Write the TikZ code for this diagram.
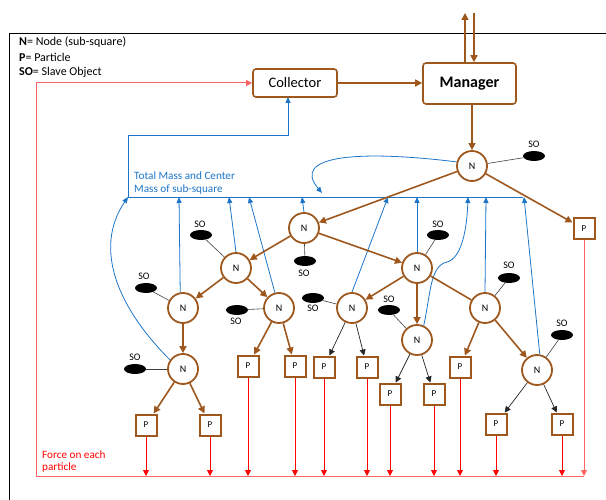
\documentclass[tikz,border=0pt]{standalone}
\usepackage{fontspec}
\setmainfont{Carlito}
\usetikzlibrary{arrows.meta,shapes.geometric}
\definecolor{brn}{RGB}{158,88,30}
\definecolor{blu}{RGB}{28,117,200}
\definecolor{rd}{RGB}{255,0,0}
\definecolor{rdl}{RGB}{255,100,100}
\tikzset{
 nnode/.style={circle,draw=brn,line width=1.8pt,fill=white,minimum size=30pt,inner sep=0pt,font=\fontsize{10}{10}\selectfont},
 pnode/.style={rectangle,draw=brn,line width=2pt,fill=white,minimum size=21pt,inner sep=0pt,font=\fontsize{9}{9}\selectfont},
 sonode/.style={ellipse,fill=black,minimum width=22pt,minimum height=10pt,inner sep=0pt},
 solab/.style={font=\fontsize{10}{10}\selectfont,inner sep=1pt},
 bedge/.style={draw=brn,line width=1.6pt,-{Triangle[length=7pt,width=7pt]}},
 bline/.style={draw=brn,line width=1.6pt},
 kedge/.style={draw=black!85,line width=0.7pt,-{Triangle[length=6pt,width=6pt]}},
 soline/.style={draw=black!75,line width=0.6pt},
 bluel/.style={draw=blu,line width=0.8pt},
 bluea/.style={draw=blu,line width=0.8pt,-{Triangle[length=6pt,width=5pt]}},
 redarr/.style={draw=rd,line width=0.8pt,-{Triangle[length=6pt,width=6pt]}},
 redfr/.style={draw=rdl,line width=1pt},
 box/.style={rectangle,rounded corners=3pt,draw=brn,line width=1.6pt,fill=white},
 legend/.style={anchor=west,inner sep=0pt,font=\fontsize{12}{12}\selectfont},
 bluetxt/.style={anchor=west,inner sep=0pt,text=blu,font=\fontsize{11.2}{11.2}\selectfont},
 redtxt/.style={anchor=west,inner sep=0pt,text=rd,font=\fontsize{11.2}{11.2}\selectfont},
}
\begin{document}
\begin{tikzpicture}[x=1pt,y=-1pt]
\useasboundingbox (0,0) rectangle (606,500);
% frame
\coordinate (frBL) at (9,500);
\coordinate (frTR) at (606,33);
\draw[line width=0.8pt] (frBL) |- (frTR);
% legend
\node[legend] (lg1) at (19,42) {\textbf{N}= Node (sub-square)};
\node[legend] (lg2) at (19,57) {\textbf{P}= Particle};
\node[legend] (lg3) at (19,72) {\textbf{SO}= Slave Object};
% boxes
\node[box,minimum width=84pt,minimum height=28pt,font=\fontsize{14.5}{14.5}\selectfont] (coll) at (295,83) {Collector};
\node[box,minimum width=93pt,minimum height=41pt,font=\fontsize{16}{16}\selectfont\bfseries] (mgr) at (469.5,83.5) {Manager};
\coordinate (mt1) at (465,13);
\coordinate (mt2) at (474,13);
\draw[bedge] (mgr.north -| mt1) -- (mt1);
\draw[bedge] (mt2) -- (mgr.north -| mt2);
\draw[bedge] (coll.east) -- (coll.east -| mgr.west);
% N nodes
\node[nnode] (A) at (472,166) {N};
\node[nnode] (B) at (304,228) {N};
\node[nnode] (C) at (236,268) {N};
\node[nnode] (D) at (417,268) {N};
\node[nnode] (E) at (183,308) {N};
\node[nnode] (F) at (279,308) {N};
\node[nnode] (G) at (352,308) {N};
\node[nnode] (H) at (485,308) {N};
\node[nnode] (I) at (183,369) {N};
\node[nnode] (J) at (417,340) {N};
\node[nnode] (K) at (537,370) {N};
% P nodes
\node[pnode] (pR) at (584,229) {P};
\node[pnode] (pI1) at (146,425) {P};
\node[pnode] (pI2) at (210,425) {P};
\node[pnode] (pF1) at (248,366) {P};
\node[pnode] (pF2) at (295,366) {P};
\node[pnode] (pG1) at (324,367) {P};
\node[pnode] (pG2) at (367,367) {P};
\node[pnode] (pJ1) at (390,394) {P};
\node[pnode] (pJ2) at (434,394) {P};
\node[pnode] (pH) at (460,367) {P};
\node[pnode] (pK1) at (496,424) {P};
\node[pnode] (pK2) at (562,424) {P};
% SO
\node[sonode] (soA) at (534,156) {};
\node[sonode] (soB) at (305,261) {};
\node[sonode] (soC) at (201,235) {};
\node[sonode] (soD) at (438,235) {};
\node[sonode] (soE) at (146,288) {};
\node[sonode] (soF) at (237,310) {};
\node[sonode] (soG) at (313,298) {};
\node[sonode] (soJ) at (389,310) {};
\node[sonode] (soH) at (509,278) {};
\node[sonode] (soK) at (562,335) {};
\node[sonode] (soI) at (135,369) {};
\node[solab] (lA) at (534,144) {SO};
\node[solab] (lB) at (304,273) {SO};
\node[solab] (lC) at (200,224) {SO};
\node[solab] (lD) at (438,224) {SO};
\node[solab] (lE) at (144,276) {SO};
\node[solab] (lF) at (236,321) {SO};
\node[solab] (lG) at (313,308) {SO};
\node[solab] (lJ) at (389,299) {SO};
\node[solab] (lH) at (509,265) {SO};
\node[solab] (lK) at (562,323) {SO};
\node[solab] (lI) at (135,357) {SO};
\foreach \n in {A,B,C,D,E,F,G,H,I,J,K} \draw[soline] (\n) -- (so\n);
% blue bus
\coordinate (busL) at (128,197);
\coordinate (busR) at (523,197);
\coordinate (bend1) at (128,135);
\coordinate (bend2) at (288,135);
\coordinate (cin) at (288,97);
\draw[bluel] (busL) -- (busR);
\draw[bluea] (busL) -- (bend1) -- (bend2) -- (cin);
\node[bluetxt] (t1) at (134,176) {Total Mass and Center};
\node[bluetxt] (t2) at (134,190) {Mass of sub-square};
\coordinate (b179) at (179,197);
\coordinate (b229) at (229,197);
\coordinate (b249) at (249,197);
\coordinate (b302) at (302,197);
\coordinate (b388) at (388,197);
\coordinate (b417) at (417,197);
\coordinate (b468) at (468,197);
\coordinate (b486) at (486,197);
\coordinate (b524) at (524,197);
\coordinate (bA) at (322,193);
\draw[bluea] (I.145) .. controls (120,310) and (92,250) .. (busL);
\draw[bluea] (E.100) -- (b179);
\draw[bluea] (C.north) -- (b229);
\draw[bluea] (F.105) -- (b249);
\draw[bluea] (B.north) -- (b302);
\draw[bluea] (G.north) -- (b388);
\draw[bluea] (D.north) -- (b417);
\draw[bluea] (J.65) .. controls (431,292) and (430,266) .. (447,262) .. controls (462,258) and (467,228) .. (b468);
\draw[bluea] (H.north) -- (b486);
\draw[bluea] (K.80) -- (b524);
\draw[bluea] (A.165) .. controls (360,150) and (290,155) .. (bA);
% brown tree edges
\draw[bedge] (mgr.south -| A) -- (A);
\draw[bedge] (A) -- (B);
\draw[bedge] (A) -- (pR);
\draw[bedge] (B) -- (C);
\draw[bedge] (B) -- (D);
\draw[bedge] (C) -- (E);
\draw[bedge] (C) -- (F);
\draw[bedge] (D) -- (G);
\draw[bedge] (D) -- (J);
\draw[bline] (D) -- (H);
\draw[bedge] (E) -- (I);
\draw[bedge] (F) -- (pF1);
\draw[bedge] (F) -- (pF2);
\draw[bedge] (H) -- (pH);
\draw[bedge] (H) -- (K);
\draw[bedge] (I) -- (pI1);
\draw[bedge] (I) -- (pI2);
\draw[kedge] (G) -- (pG1);
\draw[kedge] (G) -- (pG2);
\draw[kedge] (J) -- (pJ1);
\draw[kedge] (J) -- (pJ2);
\draw[kedge] (K) -- (pK1);
\draw[kedge] (K) -- (pK2);
% red force lines
\coordinate (rBL) at (36,476);
\coordinate (rBR) at (584,476);
\draw[redfr,-{Triangle[length=6pt,width=6pt]}] (rBR) -- (rBL) |- (coll.west);
\draw[redfr,-{Triangle[length=6pt,width=6pt]}] (pR.south) -- (rBR);
\foreach \p in {pI1,pI2,pF1,pF2,pG1,pG2,pJ1,pJ2,pH,pK1,pK2}
  \draw[redarr] (\p.south) -- (\p.south |- rBL);
\node[redtxt] (f1) at (42,455) {Force on each};
\node[redtxt] (f2) at (42,468) {particle};
\end{tikzpicture}
\end{document}
